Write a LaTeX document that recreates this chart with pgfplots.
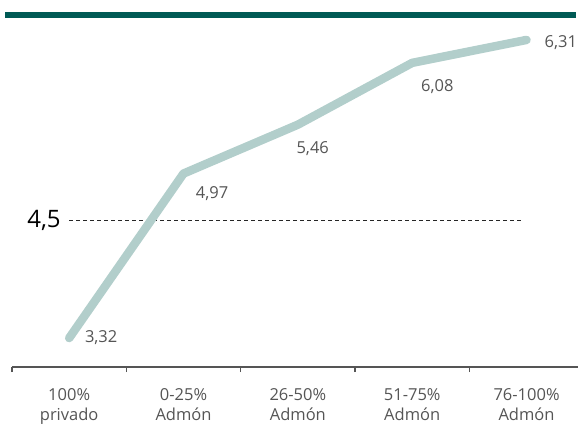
\documentclass[border=0pt]{standalone}
\usepackage{pgfplots}
\pgfplotsset{compat=1.18}
\usepackage{fontspec}
\setmainfont{Open Sans}
\definecolor{linec}{HTML}{B2CECB}
\definecolor{topbar}{HTML}{005A55}
\definecolor{txt}{HTML}{555555}
\begin{document}
\begin{tikzpicture}
\begin{axis}[
  scale only axis,
  width=566pt, height=352pt,
  xmin=-0.5, xmax=4.45,
  ymin=3.03, ymax=6.56,
  axis x line*=bottom,
  axis y line=none,
  axis line style={txt, line width=1.3pt, -},
  xtick={0,1,2,3,4},
  xticklabels={{100\%\\privado},{0-25\%\\Admón},{26-50\%\\Admón},{51-75\%\\Admón},{76-100\%\\Admón}},
  x tick label style={align=center, font=\fontsize{16.5}{20}\selectfont, text=txt, yshift=-18pt},
  major tick length=0pt,
  minor xtick={-0.5,0.5,1.5,2.5,3.5},
  minor tick length=5pt,
  minor tick style={txt, line width=1.3pt},
  tick align=outside,
  clip=false,
]
\addplot[black!85, line width=1.3pt, dash pattern=on 4pt off 3pt] coordinates {(0,4.5) (3.95,4.5)};
\addplot[linec, line width=8.5pt, line cap=round, line join=round] coordinates {
  (0,3.32) (1,4.97) (2,5.46) (3,6.08) (4,6.31)};
\draw[topbar, line width=6pt] (axis cs:-0.56,6.56) -- (axis cs:4.43,6.56);
\node[anchor=east, font=\fontsize{24}{28}\selectfont, xshift=-5pt] at (axis cs:0,4.5) {4,5};
\node[txt, font=\fontsize{16.5}{19}\selectfont] at (axis cs:0.28,3.32) {3,32};
\node[txt, font=\fontsize{16.5}{19}\selectfont] at (axis cs:1.25,4.77) {4,97};
\node[txt, font=\fontsize{16.5}{19}\selectfont] at (axis cs:2.13,5.22) {5,46};
\node[txt, font=\fontsize{16.5}{19}\selectfont] at (axis cs:3.22,5.84) {6,08};
\node[txt, font=\fontsize{16.5}{19}\selectfont] at (axis cs:4.3,6.28) {6,31};
\end{axis}
\pgfresetboundingbox
\path ([xshift=-12pt,yshift=-77pt]current axis.south west) rectangle ([yshift=15pt]current axis.north east);
\end{tikzpicture}
\end{document}
